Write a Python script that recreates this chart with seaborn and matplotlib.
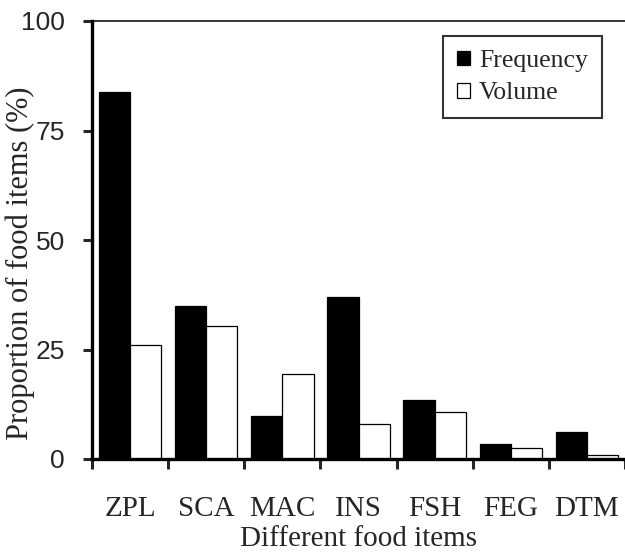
import pandas as pd
import numpy as np
import matplotlib
matplotlib.use("Agg")
import matplotlib.pyplot as plt
import seaborn as sns

categories = ["ZPL", "SCA", "MAC", "INS", "FSH", "FEG", "DTM"]
frequency = [83.7, 34.9, 9.8, 37.1, 13.4, 3.4, 6.2]
volume = [26.1, 30.3, 19.3, 7.9, 10.7, 2.4, 1.0]
y_ticks = [0, 25, 50, 75, 100]

df = pd.DataFrame({
    "item": categories * 2,
    "value": frequency + volume,
    "series": ["Frequency"] * len(categories) + ["Volume"] * len(categories),
})

sns.set_style("ticks")
plt.rcParams["font.family"] = ["Liberation Serif", "DejaVu Serif"]

fig = plt.figure(figsize=(6.25, 5.52), dpi=100)
ax = fig.add_axes([92 / 625, 1 - 459 / 552, 533 / 625, 438 / 552])

sns.barplot(data=df, x="item", y="value", hue="series", order=categories,
            palette={"Frequency": "black", "Volume": "white"},
            edgecolor="black", linewidth=0.9, width=0.82, ax=ax)

ax.set_xlim(-0.5, len(categories) - 0.5)
ax.set_ylim(0, 100)

# ticks on the category boundaries, labels in the middle
ax.set_xticks(np.arange(-0.5, len(categories), 1))
ax.set_xticklabels([])
ax.set_xticks(range(len(categories)), minor=True)
ax.set_xticklabels(categories, minor=True, fontsize=21)
ax.tick_params(axis="x", which="major", direction="out", length=7.2, width=2.2)
ax.tick_params(axis="x", which="minor", length=0, pad=27)

ax.set_yticks(y_ticks)
ax.set_yticklabels([str(t) for t in y_ticks], fontsize=19, family="Liberation Sans")
ax.tick_params(axis="y", direction="out", length=6.5, width=2.2, pad=13)

for side in ["left", "bottom"]:
    ax.spines[side].set_linewidth(2.4)
ax.spines["top"].set_linewidth(1.1)
ax.spines["right"].set_visible(False)
for s in ax.spines.values():
    s.set_color("black")

ax.set_ylabel("Proportion of food items (%)", fontsize=22)
ax.yaxis.set_label_coords(-0.107, 0.447)
ax.set_xlabel("Different food items", fontsize=21)
ax.xaxis.set_label_coords(0.5, -0.153)

leg = ax.legend(title=None, loc="upper right", bbox_to_anchor=(0.957, 0.966),
                fontsize=18.5, frameon=True, fancybox=False, edgecolor="black",
                handlelength=0.5, handleheight=0.5, handletextpad=0.35,
                borderpad=0.55, labelspacing=0.4, borderaxespad=0)
leg.get_frame().set_linewidth(1.5)

fig.savefig("out.png", dpi=100)
